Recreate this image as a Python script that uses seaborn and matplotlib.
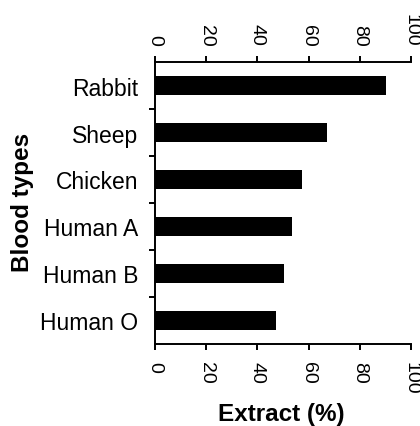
import matplotlib
matplotlib.use("Agg")
import matplotlib.pyplot as plt
import seaborn as sns
import pandas as pd
from matplotlib.ticker import FixedLocator, NullFormatter

# Extract yield by blood type
blood_types = ["Rabbit", "Sheep", "Chicken", "Human A", "Human B", "Human O"]
extract_pct = [90.4, 67.3, 57.3, 53.7, 50.5, 47.4]
x_ticks = [0, 20, 40, 60, 80, 100]

sns.set_style("ticks")
plt.rcParams["font.family"] = ["Liberation Sans", "DejaVu Sans"]

df = pd.DataFrame({"Blood types": blood_types, "Extract (%)": extract_pct})

fig = plt.figure(figsize=(4.2, 4.27), dpi=100)
ax = fig.add_axes([155 / 420, 1 - 345 / 427, 256 / 420, 282 / 427])

sns.barplot(data=df, x="Extract (%)", y="Blood types", orient="h",
            color="black", width=0.4, saturation=1, ax=ax, linewidth=0)

ax.set_xlim(0, 100)
ax.set_ylim(len(blood_types) - 0.5, -0.5)

# Spines: left, top and bottom
for side in ("left", "top", "bottom"):
    ax.spines[side].set_visible(True)
    ax.spines[side].set_color("black")
    ax.spines[side].set_linewidth(1.4)
ax.spines["right"].set_visible(False)

# X axis ticks on both top and bottom, labels rotated
ax.set_xticks(x_ticks)
ax.set_xticklabels([str(v) for v in x_ticks])
ax.tick_params(axis="x", top=True, bottom=True, labeltop=True, labelbottom=True,
               direction="out", length=4, width=1.4, color="black",
               pad=8, labelsize=14, labelrotation=270, labelcolor="black")

# Y axis: tick marks between categories, labels at category centres
n = len(blood_types)
ax.yaxis.set_major_locator(FixedLocator([i + 0.5 for i in range(n - 1)]))
ax.yaxis.set_major_formatter(NullFormatter())
ax.yaxis.set_minor_locator(FixedLocator(list(range(n))))
ax.set_yticklabels(blood_types, minor=True)
ax.tick_params(axis="y", which="major", direction="out", length=4, width=1.4,
               color="black", left=True, right=False)
ax.tick_params(axis="y", which="minor", length=0, pad=12, labelsize=16.5,
               labelcolor="black", left=True, right=False)

ax.set_xlabel("Extract (%)", fontsize=17.5, fontweight="bold", color="black")
ax.xaxis.set_label_position("bottom")
ax.xaxis.set_label_coords((281 - 155) / 256, (345 - 415) / 282)
ax.xaxis.label.set_va("center")

ax.set_ylabel("Blood types", fontsize=17.5, fontweight="bold", color="black")
ax.yaxis.set_label_coords((23 - 155) / 256, (345 - 202) / 282)
ax.yaxis.label.set_va("center")
ax.yaxis.label.set_ha("center")

fig.savefig("out.png", dpi=100)
